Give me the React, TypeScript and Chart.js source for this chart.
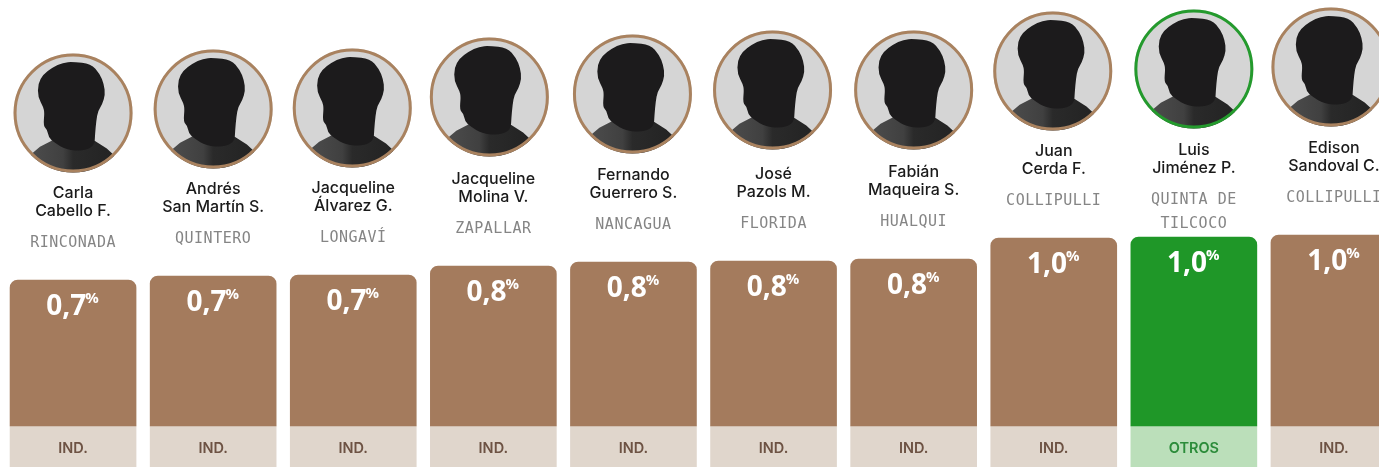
import React, { useEffect, useRef } from "react";
import { Chart, registerables } from "chart.js";

Chart.register(...registerables);

const firstLines = ["Carla", "Andrés", "Jacqueline", "Jacqueline", "Fernando", "José", "Fabián", "Juan", "Luis", "Edison"];
const secondLines = ["Cabello F.", "San Martín S.", "Álvarez G.", "Molina V.", "Guerrero S.", "Pazols M.", "Maqueira S.", "Cerda F.", "Jiménez P.", "Sandoval C."];
const places = [["RINCONADA"], ["QUINTERO"], ["LONGAVÍ"], ["ZAPALLAR"], ["NANCAGUA"], ["FLORIDA"], ["HUALQUI"], ["COLLIPULLI"], ["QUINTA DE", "TILCOCO"], ["COLLIPULLI"]];
const shownValues = ["0,7", "0,7", "0,7", "0,8", "0,8", "0,8", "0,8", "1,0", "1,0", "1,0"];
const barValues = [0.73, 0.75, 0.755, 0.8, 0.82, 0.825, 0.835, 0.94, 0.945, 0.955];
const parties = ["IND.", "IND.", "IND.", "IND.", "IND.", "IND.", "IND.", "IND.", "OTROS", "IND."];
const tagValues = [-0.205, -0.205, -0.205, -0.205, -0.205, -0.205, -0.205, -0.205, -0.205, -0.205];

const BROWN = "#a47b5d";
const GREEN = "#1f9728";
const isOther = (i: number) => parties[i] === "OTROS";

// Photos in the source sit slightly off the bar centres.
const AVATAR_DX = [0, 0, -1, -4, -1, -1, 0, -1, 0, -3];
const AVATAR_LIFT = [167, 167, 167, 169, 168, 171, 169, 167, 168, 168];

const HEAD: [number, number][] = [
  [0.0, -0.86], [0.3, -0.83], [0.45, -0.66], [0.52, -0.48], [0.54, -0.31], [0.49, -0.14],
  [0.42, -0.04], [0.39, 0.13], [0.37, 0.36], [0.36, 0.54], [0.2, 0.64], [-0.12, 0.62],
  [-0.31, 0.5], [-0.41, 0.42], [-0.43, 0.28], [-0.5, 0.22], [-0.48, 0.0], [-0.5, -0.1],
  [-0.59, -0.27], [-0.59, -0.49], [-0.5, -0.65], [-0.35, -0.76], [-0.17, -0.85],
];
const SHOULDERS: [number, number][] = [
  [-0.7, 0.69], [-0.556, 0.567], [-0.36, 0.466], [-0.22, 0.41], [0.287, 0.41], [0.343, 0.455],
  [0.567, 0.596], [0.69, 0.708], [0.8, 1.1], [-0.8, 1.1],
];

function traceSmooth(ctx: CanvasRenderingContext2D, pts: [number, number][], cx: number, cy: number, r: number) {
  const p = pts.map(([x, y]) => [cx + x * r, cy + y * r]);
  const n = p.length;
  ctx.beginPath();
  ctx.moveTo((p[n - 1][0] + p[0][0]) / 2, (p[n - 1][1] + p[0][1]) / 2);
  for (let i = 0; i < n; i++) {
    const q = p[(i + 1) % n];
    ctx.quadraticCurveTo(p[i][0], p[i][1], (p[i][0] + q[0]) / 2, (p[i][1] + q[1]) / 2);
  }
  ctx.closePath();
}

function tracePoly(ctx: CanvasRenderingContext2D, pts: [number, number][], cx: number, cy: number, r: number) {
  ctx.beginPath();
  pts.forEach(([x, y], i) => {
    if (i === 0) ctx.moveTo(cx + x * r, cy + y * r);
    else ctx.lineTo(cx + x * r, cy + y * r);
  });
  ctx.closePath();
}

function drawAvatar(ctx: CanvasRenderingContext2D, cx: number, cy: number, color: string) {
  const r = 59.5;
  ctx.save();
  ctx.beginPath();
  ctx.arc(cx, cy, r, 0, Math.PI * 2);
  ctx.fillStyle = "#d5d5d5";
  ctx.fill();
  ctx.clip();
  const g = ctx.createLinearGradient(cx - r * 0.7, 0, cx + r * 0.7, 0);
  g.addColorStop(0, "#4c4c4c");
  g.addColorStop(0.38, "#404040");
  g.addColorStop(0.5, "#2a2a2a");
  g.addColorStop(1, "#232323");
  ctx.fillStyle = g;
  tracePoly(ctx, SHOULDERS, cx, cy, r);
  ctx.fill();
  ctx.fillStyle = "#1c1b1c";
  traceSmooth(ctx, HEAD, cx, cy, r);
  ctx.fill();
  ctx.restore();
  ctx.beginPath();
  ctx.arc(cx, cy, r - 1.5, 0, Math.PI * 2);
  ctx.strokeStyle = color;
  ctx.lineWidth = 3;
  ctx.stroke();
}

const annotate = {
  id: "annotate",
  afterDatasetsDraw(chart: any) {
    const ctx: CanvasRenderingContext2D = chart.ctx;
    const bars = chart.getDatasetMeta(0).data;
    ctx.save();
    ctx.textBaseline = "alphabetic";
    bars.forEach((bar: any, i: number) => {
      const cx = bar.x;
      const top = bar.y;
      drawAvatar(ctx, cx + AVATAR_DX[i], top - AVATAR_LIFT[i], isOther(i) ? "#249a2d" : "#a9825f");

      ctx.textAlign = "center";
      (ctx as any).letterSpacing = "0px";
      ctx.fillStyle = "#1a1a1a";
      ctx.font = '500 16px "Inter"';
      ctx.fillText(firstLines[i], cx, top - 82);
      ctx.fillText(secondLines[i], cx, top - 64);

      ctx.fillStyle = "#858585";
      ctx.font = '15px "DejaVu Sans Mono"';
      (ctx as any).letterSpacing = "0.5px";
      places[i].forEach((p, k) => ctx.fillText(p, cx, top - 33.5 + k * 24));
      (ctx as any).letterSpacing = "0px";

      ctx.textAlign = "left";
      ctx.font = '700 28px "Open Sans"';
      const w = ctx.measureText(shownValues[i]).width;
      ctx.font = '700 15px "Open Sans"';
      const pw = ctx.measureText("%").width;
      const sx = cx - (w + pw) / 2;
      ctx.fillStyle = "#ffffff";
      ctx.font = '700 28px "Open Sans"';
      ctx.fillText(shownValues[i], sx, top + 35);
      ctx.font = '700 15px "Open Sans"';
      ctx.fillText("%", sx + w - 1, top + 23);

      ctx.textAlign = "center";
      ctx.font = '600 14.5px "Inter"';
      ctx.fillStyle = isOther(i) ? "#2c8c3a" : "#6d5243";
      ctx.fillText(parties[i], cx, 452.5);
    });
    ctx.restore();
  },
};

export default function App() {
  const ref = useRef<HTMLCanvasElement | null>(null);
  useEffect(() => {
    document.body.style.background = "#ffffff";
    const chart = new Chart(ref.current as HTMLCanvasElement, {
      type: "bar",
      data: {
        labels: secondLines,
        datasets: [
          {
            data: barValues,
            backgroundColor: barValues.map((_, i) => (isOther(i) ? GREEN : BROWN)),
            barThickness: 126,
            grouped: false,
            borderRadius: { topLeft: 8, topRight: 8, bottomLeft: 0, bottomRight: 0 },
          },
          {
            data: tagValues,
            backgroundColor: tagValues.map((_, i) => (isOther(i) ? "#bbdfba" : "#e0d6cc")),
            barThickness: 126,
            grouped: false,
          },
        ],
      } as any,
      options: {
        animation: false,
        responsive: false,
        layout: { padding: { left: 3, right: 0, top: 0, bottom: 0 } },
        plugins: { legend: { display: false }, tooltip: { enabled: false } },
        scales: {
          x: { display: false },
          y: { display: false, min: -0.205, max: 2.13 },
        },
      },
      plugins: [annotate],
    } as any);
    return () => chart.destroy();
  }, []);
  return (
    <div style={{ position: "fixed", left: 0, top: 0, width: 1379, height: 467, overflow: "hidden", background: "#fff" }}>
      <canvas ref={ref} width={1404} height={467} style={{ display: "block" }} />
    </div>
  );
}
